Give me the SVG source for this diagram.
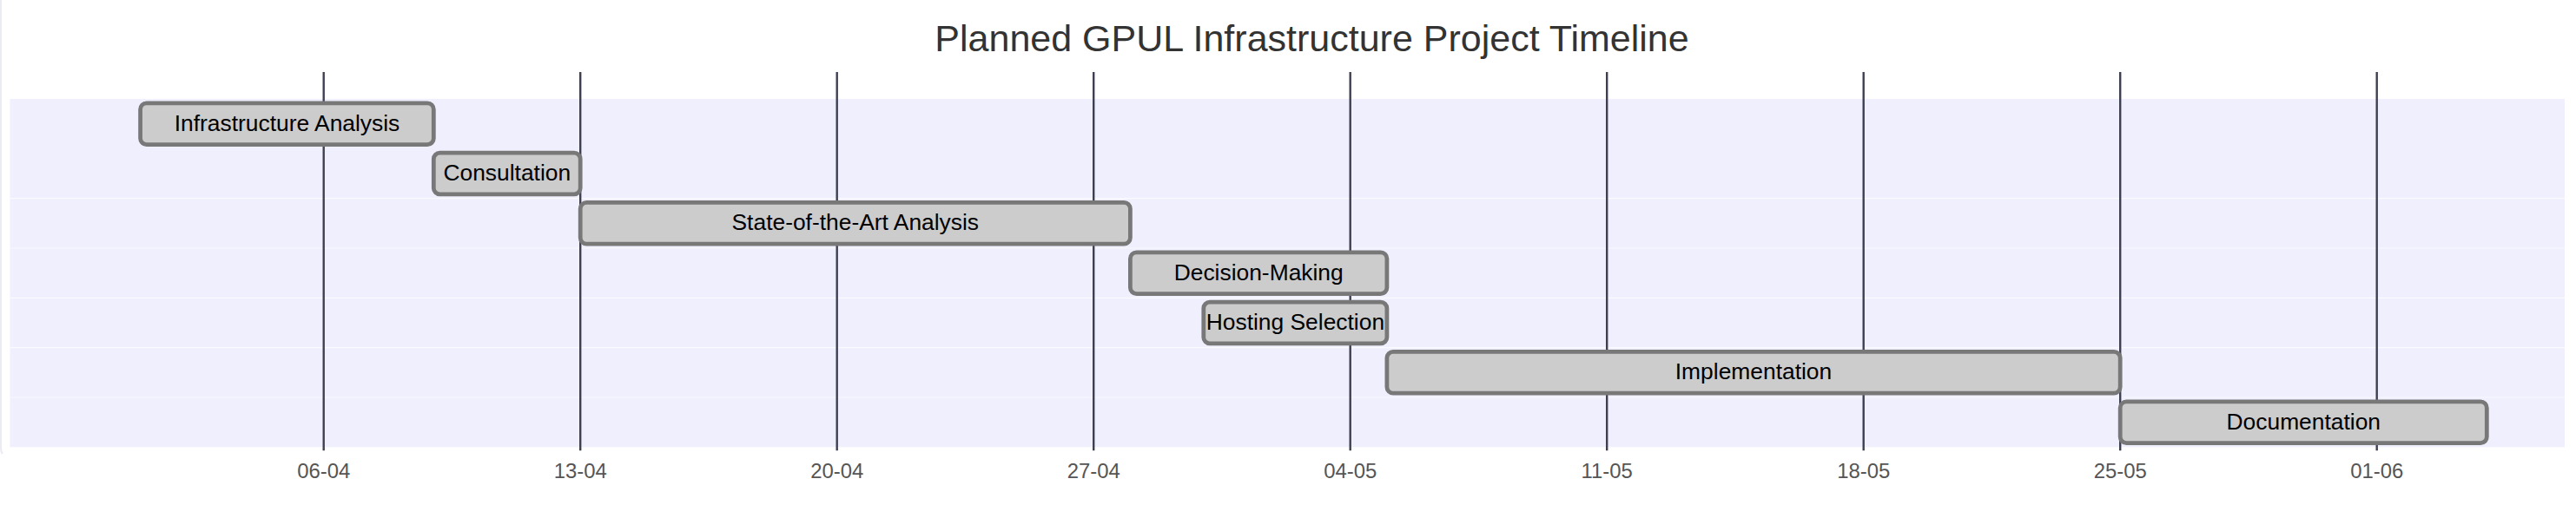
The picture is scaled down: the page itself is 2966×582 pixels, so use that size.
<svg xmlns="http://www.w3.org/2000/svg" width="2966" height="582" viewBox="0 0 2966 582">
<style>
.band{fill:#efeffe}
.sep{stroke:#fafaff;stroke-width:1.2}
.grid{stroke:#3e4052;stroke-width:2.4}
.tick{font-family:"Liberation Sans",Arial,sans-serif;font-size:23.9px;fill:#555;text-anchor:middle}
.bar{fill:#cccccc;stroke:#787878;stroke-width:4.78}
.lbl{font-family:"Liberation Sans",Arial,sans-serif;font-size:26.4px;fill:#000;text-anchor:middle}
.title{font-family:"Liberation Sans",Arial,sans-serif;font-size:43px;fill:#333;text-anchor:middle}
</style>
<rect x="0" y="0" width="2966" height="582" fill="#ffffff"/>
<path d="M1,0 V516 Q1,521 3,523" fill="none" stroke="#ebebf3" stroke-width="2"/>
<g id="sections">
<rect class="band" x="11.5" y="114" width="2941.5" height="401.3"/>
<line class="sep" x1="11.5" y1="228.7" x2="2953" y2="228.7"/>
<line class="sep" x1="11.5" y1="286" x2="2953" y2="286"/>
<line class="sep" x1="11.5" y1="343.3" x2="2953" y2="343.3"/>
<line class="sep" x1="11.5" y1="400.7" x2="2953" y2="400.7"/>
<line class="sep" x1="11.5" y1="458" x2="2953" y2="458"/>
</g>
<g id="grid">
<line class="grid" x1="372.7" y1="83" x2="372.7" y2="519.3"/>
<line class="grid" x1="668.2" y1="83" x2="668.2" y2="519.3"/>
<line class="grid" x1="963.7" y1="83" x2="963.7" y2="519.3"/>
<line class="grid" x1="1259.2" y1="83" x2="1259.2" y2="519.3"/>
<line class="grid" x1="1554.7" y1="83" x2="1554.7" y2="519.3"/>
<line class="grid" x1="1850.2" y1="83" x2="1850.2" y2="519.3"/>
<line class="grid" x1="2145.7" y1="83" x2="2145.7" y2="519.3"/>
<line class="grid" x1="2441.2" y1="83" x2="2441.2" y2="519.3"/>
<line class="grid" x1="2736.7" y1="83" x2="2736.7" y2="519.3"/>
<text class="tick" x="372.7" y="550.7">06-04</text>
<text class="tick" x="668.2" y="550.7">13-04</text>
<text class="tick" x="963.7" y="550.7">20-04</text>
<text class="tick" x="1259.2" y="550.7">27-04</text>
<text class="tick" x="1554.7" y="550.7">04-05</text>
<text class="tick" x="1850.2" y="550.7">11-05</text>
<text class="tick" x="2145.7" y="550.7">18-05</text>
<text class="tick" x="2441.2" y="550.7">25-05</text>
<text class="tick" x="2736.7" y="550.7">01-06</text>
</g>
<g id="connectors"></g>
<g id="task-infrastructure-analysis">
<rect class="bar" x="161.6" y="118.8" width="337.7" height="47.8" rx="7.2" ry="7.2"/>
<text class="lbl" x="330.5" y="150.7">Infrastructure Analysis</text>
</g>
<g id="task-consultation">
<rect class="bar" x="499.3" y="176.1" width="168.9" height="47.8" rx="7.2" ry="7.2"/>
<text class="lbl" x="583.8" y="208">Consultation</text>
</g>
<g id="task-state-of-the-art">
<rect class="bar" x="668.2" y="233.4" width="633.2" height="47.8" rx="7.2" ry="7.2"/>
<text class="lbl" x="984.8" y="265.3">State-of-the-Art Analysis</text>
</g>
<g id="task-decision-making">
<rect class="bar" x="1301.4" y="290.8" width="295.5" height="47.8" rx="7.2" ry="7.2"/>
<text class="lbl" x="1449.2" y="322.7">Decision-Making</text>
</g>
<g id="task-hosting-selection">
<rect class="bar" x="1385.8" y="348.1" width="211.1" height="47.8" rx="7.2" ry="7.2"/>
<text class="lbl" x="1491.4" y="380">Hosting Selection</text>
</g>
<g id="task-implementation">
<rect class="bar" x="1596.9" y="405.4" width="844.3" height="47.8" rx="7.2" ry="7.2"/>
<text class="lbl" x="2019" y="437.3">Implementation</text>
</g>
<g id="task-documentation">
<rect class="bar" x="2441.2" y="462.8" width="422.1" height="47.8" rx="7.2" ry="7.2"/>
<text class="lbl" x="2652.3" y="494.7">Documentation</text>
</g>
<text class="title" x="1510.5" y="59.3">Planned GPUL Infrastructure Project Timeline</text>
</svg>
